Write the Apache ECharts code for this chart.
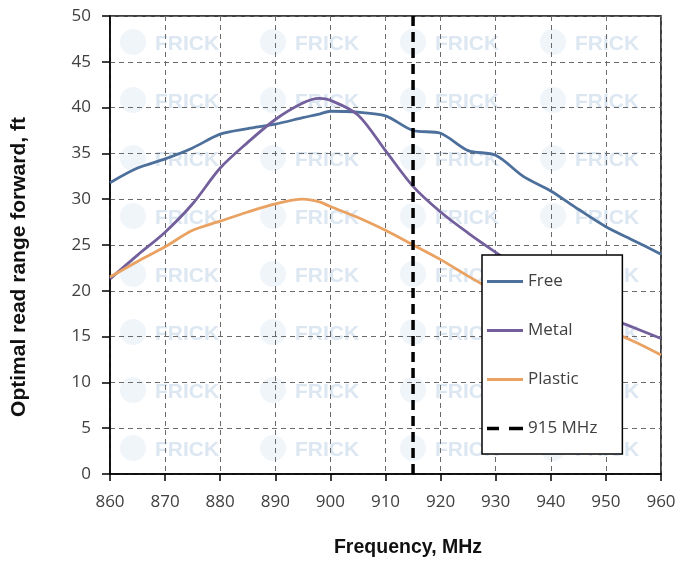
<!DOCTYPE html>
<html>
<head>
<meta charset="utf-8">
<script src="https://cdn.jsdelivr.net/npm/echarts@6/dist/echarts.min.js"></script>
<style>html,body{margin:0;padding:0;background:#fff;}#c{width:681px;height:564px;}</style>
</head>
<body>
<div id="c"></div>
<script>
var freq = [860,865,870,875,880,885,890,895,898,900,905,910,915,920,925,930,935,940,945,950,955,960];
var free = [31.8,33.4,34.4,35.6,37.1,37.7,38.2,38.9,39.3,39.6,39.5,39.1,37.5,37.2,35.3,34.8,32.5,30.9,28.9,27.0,25.5,24.0];
var metal = [21.3,23.9,26.4,29.5,33.4,36.2,38.7,40.5,41.0,40.8,39.2,35.3,31.4,28.6,26.3,24.2,22.2,20.4,18.8,17.2,16.0,14.8];
var plastic = [21.5,23.2,24.8,26.6,27.6,28.6,29.5,30.0,29.7,29.2,28.0,26.6,25.0,23.4,21.6,19.9,18.4,17.2,16.4,15.7,14.5,13.0];
var seriesNames = ['Free', 'Metal', 'Plastic', '915 MHz'];
var markerFreq = 915;
var yRange = [0, 50];
var xTicks = {min: 860, max: 960, interval: 10};
var yTicks = {min: 0, max: 50, interval: 5};

function pairs(xs, ys) { return xs.map(function (x, i) { return [x, ys[i]]; }); }

var wm = [];
var colsX = [118, 258, 398, 538];
for (var r = 0; r < 8; r++) {
  var cy = 44 + r * 58;
  for (var c = 0; c < colsX.length; c++) {
    var cx = colsX[c];
    wm.push({type: 'circle', z: -10, silent: true, shape: {cx: cx + 15, cy: cy - 2, r: 13},
      style: {fill: 'rgba(195,215,235,0.25)'}});
    wm.push({type: 'text', z: -10, silent: true, x: cx + 37, y: cy, style: {
      text: 'FRICK', fill: 'rgba(185,208,230,0.5)', font: 'bold 21px "Liberation Sans"',
      verticalAlign: 'middle', align: 'left'}});
  }
}
wm.push({type: 'text', x: 19, y: 267, rotation: Math.PI / 2, style: {
  text: 'Optimal read range forward, ft', fill: '#111', font: 'bold 21px "Liberation Sans"',
  align: 'center', verticalAlign: 'middle'}});
wm.push({type: 'text', x: 408, y: 548, style: {
  text: 'Frequency, MHz', fill: '#111', font: 'bold 19.5px "Liberation Sans"',
  align: 'center', verticalAlign: 'middle'}});

var solidIcon = 'path://M0,0H36V3H0Z';
var dashIcon = 'path://M0,0H12V3.5H0Z M22,0H36V3.5H22Z';

var chart = echarts.init(document.getElementById('c'), null, {renderer: 'canvas'});
var labelStyle = {color: '#404040', fontSize: 17, fontFamily: 'Open Sans'};
var gridLine = {show: true, lineStyle: {color: '#6a6a6a', width: 1, type: [5, 4]}};
chart.setOption({
  animation: false,
  backgroundColor: '#fff',
  graphic: wm,
  grid: {left: 110, right: 20, top: 16, bottom: 90, show: true, borderColor: '#000', borderWidth: 1.5, backgroundColor: 'transparent'},
  xAxis: {
    type: 'value', min: xTicks.min, max: xTicks.max, interval: xTicks.interval,
    axisLine: {show: true, lineStyle: {color: '#000', width: 1.5}},
    axisTick: {show: true, length: 7, lineStyle: {color: '#000', width: 1.5}},
    axisLabel: Object.assign({margin: 20}, labelStyle),
    splitLine: gridLine
  },
  yAxis: {
    type: 'value', min: yTicks.min, max: yTicks.max, interval: yTicks.interval,
    axisLine: {show: true, lineStyle: {color: '#000', width: 1.5}},
    axisTick: {show: true, length: 8, lineStyle: {color: '#000', width: 1.5}},
    axisLabel: Object.assign({margin: 19}, labelStyle),
    splitLine: gridLine
  },
  legend: {
    orient: 'vertical', left: 482, top: 255,
    padding: [18, 25, 17, 5],
    itemWidth: 36, itemHeight: 3.5, itemGap: 32, itemTextGap: 6,
    backgroundColor: '#fff', borderColor: '#000', borderWidth: 1.5, borderRadius: 0,
    textStyle: {color: '#404040', fontSize: 17, fontFamily: 'Open Sans'},
    data: seriesNames.map(function (n, i) { return {name: n, icon: i === 3 ? dashIcon : solidIcon}; })
  },
  series: [
    {name: seriesNames[0], type: 'line', data: pairs(freq, free), smooth: 0.3, showSymbol: false, symbol: 'none',
      lineStyle: {color: '#4d6f9b', width: 2.8}, itemStyle: {color: '#4d6f9b'}},
    {name: seriesNames[1], type: 'line', data: pairs(freq, metal), smooth: 0.3, showSymbol: false, symbol: 'none',
      lineStyle: {color: '#725f9c', width: 2.8}, itemStyle: {color: '#725f9c'}},
    {name: seriesNames[2], type: 'line', data: pairs(freq, plastic), smooth: 0.3, showSymbol: false, symbol: 'none',
      lineStyle: {color: '#e9a262', width: 2.8}, itemStyle: {color: '#e9a262'}},
    {name: seriesNames[3], type: 'line', data: [[markerFreq, yRange[0]], [markerFreq, yRange[1]]], showSymbol: false, symbol: 'none',
      lineStyle: {color: '#000', width: 3.5, type: [10, 6]}, itemStyle: {color: '#000'}}
  ]
});
</script>
</body>
</html>
